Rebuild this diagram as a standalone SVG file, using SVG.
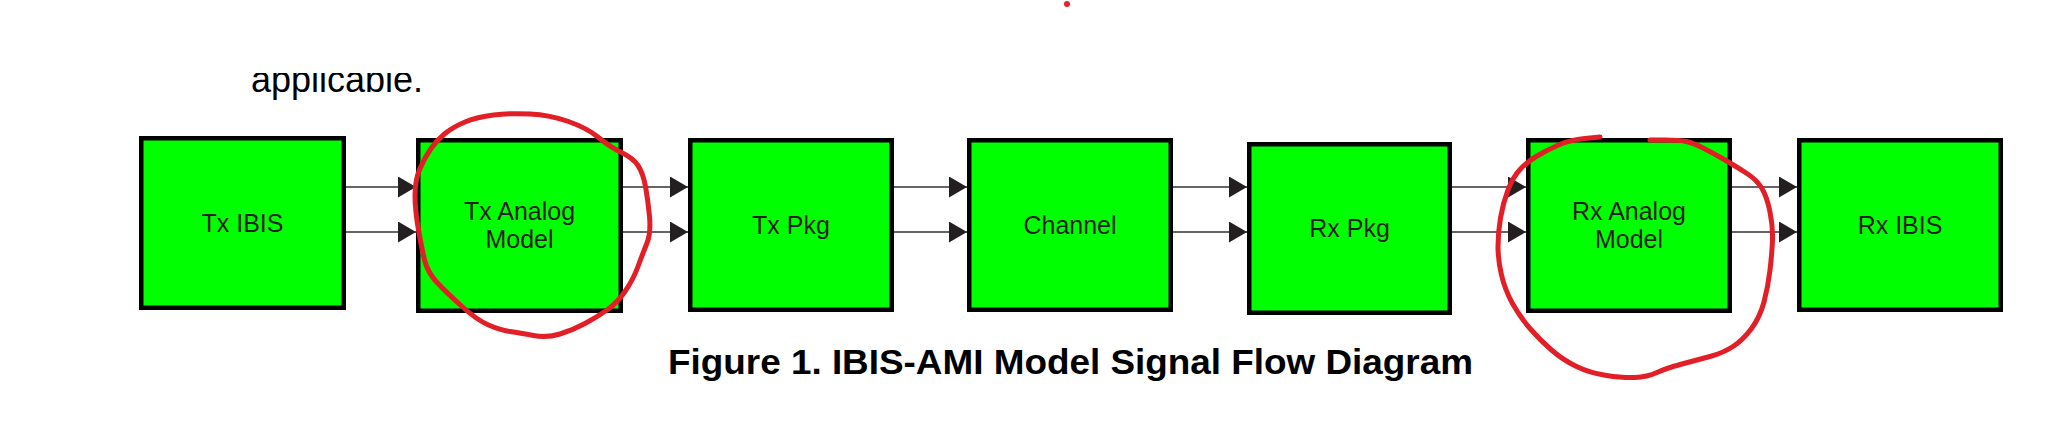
<svg xmlns="http://www.w3.org/2000/svg" width="2071" height="434" viewBox="0 0 2071 434">
<style>
.box{fill:#00ff00;stroke:#000;stroke-width:4.5}
.lbl{font-family:"Liberation Sans",Arial,sans-serif;font-size:25px;fill:#231f20;text-anchor:middle}
.conn{stroke:#333;stroke-width:1.6;fill:none;marker-end:url(#ah)}
.mark{fill:none;stroke:#e21f26;stroke-width:5;stroke-linecap:round;stroke-linejoin:round}
</style>
<defs>
<marker id="ah" markerUnits="userSpaceOnUse" markerWidth="18" markerHeight="21" refX="18" refY="10.5" orient="auto">
<path d="M0,0 L18,10.5 L0,21 Z" fill="#231f20"/>
</marker>
<clipPath id="topclip"><rect x="0" y="73" width="2071" height="400"/></clipPath>
</defs>
<rect width="2071" height="434" fill="#fff"/>
<circle cx="1067" cy="4" r="3" fill="#e8202a"/>
<text x="251" y="92" clip-path="url(#topclip)" font-family="Liberation Sans, Arial, sans-serif" font-size="36" fill="#000">applicable.</text>

<g id="connectors">
<line class="conn" x1="346" y1="187" x2="416" y2="187"/>
<line class="conn" x1="346" y1="232" x2="416" y2="232"/>
<line class="conn" x1="623" y1="187" x2="688" y2="187"/>
<line class="conn" x1="623" y1="232" x2="688" y2="232"/>
<line class="conn" x1="894" y1="187" x2="967" y2="187"/>
<line class="conn" x1="894" y1="232" x2="967" y2="232"/>
<line class="conn" x1="1173" y1="187" x2="1247" y2="187"/>
<line class="conn" x1="1173" y1="232" x2="1247" y2="232"/>
<line class="conn" x1="1452" y1="187" x2="1526" y2="187"/>
<line class="conn" x1="1452" y1="232" x2="1526" y2="232"/>
<line class="conn" x1="1732" y1="187" x2="1797" y2="187"/>
<line class="conn" x1="1732" y1="232" x2="1797" y2="232"/>
</g>

<g id="tx-ibis">
<rect class="box" x="141.25" y="138.25" width="202.5" height="169.5"/>
<text class="lbl" x="242.5" y="232">Tx IBIS</text>
</g>
<g id="tx-analog">
<rect class="box" x="418.25" y="140.25" width="202.5" height="170.5"/>
<text class="lbl" x="519.5" y="220">Tx Analog</text>
<text class="lbl" x="519.5" y="248">Model</text>
</g>
<g id="tx-pkg">
<rect class="box" x="690.25" y="140.25" width="201.5" height="169.5"/>
<text class="lbl" x="791" y="234">Tx Pkg</text>
</g>
<g id="channel">
<rect class="box" x="969.25" y="140.25" width="201.5" height="169.5"/>
<text class="lbl" x="1070" y="234">Channel</text>
</g>
<g id="rx-pkg">
<rect class="box" x="1249.25" y="144.25" width="200.5" height="168.5"/>
<text class="lbl" x="1349.5" y="237">Rx Pkg</text>
</g>
<g id="rx-analog">
<rect class="box" x="1528.25" y="140.25" width="201.5" height="170.5"/>
<text class="lbl" x="1629" y="220">Rx Analog</text>
<text class="lbl" x="1629" y="248">Model</text>
</g>
<g id="rx-ibis">
<rect class="box" x="1799.25" y="140.25" width="201.5" height="169.5"/>
<text class="lbl" x="1900" y="234">Rx IBIS</text>
</g>

<text x="668" y="374" font-family="Liberation Sans, Arial, sans-serif" font-size="35" font-weight="bold" fill="#000" textLength="805" lengthAdjust="spacingAndGlyphs">Figure 1. IBIS-AMI Model Signal Flow Diagram</text>

<g id="annotations">
<path class="mark" d="M530,114 Q550,115 568.5,121.5 Q587,128 598.5,137.5 Q610,147 621.5,152.5 Q633,158 638,165.5 Q643,173 645.5,186.5 Q648,200 649.5,216.5 Q651,233 647,243 Q643,253 638,266.5 Q633,280 625,291.5 Q617,303 607,310 Q597,317 585,323.5 Q573,330 560,334 Q547,338 533.5,335.5 Q520,333 510,331.5 Q500,330 488.5,325 Q477,320 462,306.5 Q447,293 437.5,283 Q428,273 425,261.5 Q422,250 418.5,230 Q415,210 415,195 Q415,180 420,168.5 Q425,157 431,148.5 Q437,140 445,133.5 Q453,127 465,122 Q477,117 493.5,115 Q510,113 530,114 Z"/>
<path class="mark" d="M1600,137 L1585,138.5 Q1570,140 1558.5,145 Q1547,150 1537,156 Q1527,162 1520,169.5 Q1513,177 1508,190 Q1503,203 1500.5,218 Q1498,233 1498,246.5 Q1498,260 1501.5,275 Q1505,290 1512.5,303.5 Q1520,317 1530,328.5 Q1540,340 1551.5,350 Q1563,360 1576.5,366.5 Q1590,373 1606.5,375.5 Q1623,378 1635,377.5 Q1647,377 1657,372.5 Q1667,368 1682,364 Q1697,360 1710,356.5 Q1723,353 1733,346.5 Q1743,340 1751.5,328.5 Q1760,317 1764,302 Q1768,287 1770,270 Q1772,253 1772.5,240 Q1773,227 1770,212 Q1767,197 1762,188.5 Q1757,180 1747,173.5 Q1737,167 1725,160 Q1713,153 1703,148 Q1693,143 1686.5,141.5 Q1680,140 1665,140 L1650,140"/>
</g>
</svg>
